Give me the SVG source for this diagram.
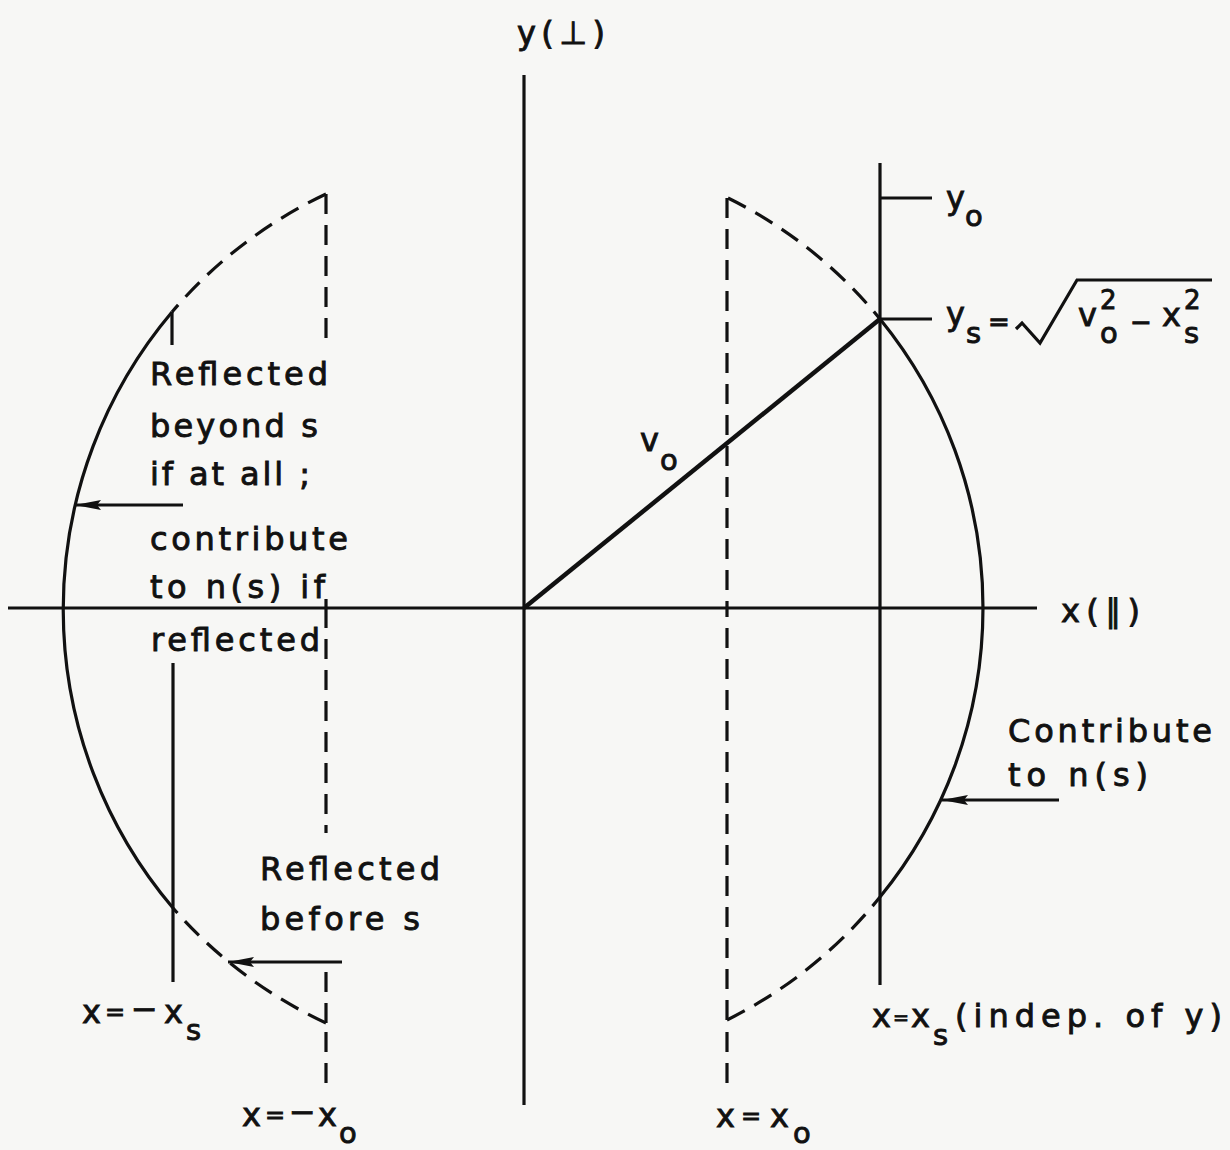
<svg xmlns="http://www.w3.org/2000/svg" width="1230" height="1150" viewBox="0 0 1230 1150">
<style>
.ln{stroke:#111;stroke-width:3.2;fill:none;stroke-linecap:butt}
.th{stroke-width:4.5}
.ds{stroke-dasharray:20 11}
text{font-family:"DejaVu Sans","Liberation Sans",sans-serif;font-size:32px;fill:#111;stroke:#111;stroke-width:0.9px}
.sb{font-size:29px}
.sm{font-size:26px}
.eq{font-size:24px}
.eqs{font-size:19px}
</style>
<defs>
<marker id="ah" viewBox="0 0 26 12" refX="26" refY="6" markerWidth="26" markerHeight="12" markerUnits="userSpaceOnUse" orient="auto">
<path d="M0,1 L26,6 L0,11 L4,6 Z" fill="#111"/>
</marker>
</defs>
<rect width="1230" height="1150" fill="#f7f7f5"/>
<g id="connectors">
<path class="ln" d="M524,75 V1105"/>
<path class="ln" d="M8,608 H1037"/>
<path class="ln th" d="M524,608 L880,319"/>
<path class="ln" d="M880,163 V985"/>
<path class="ln" d="M880,198 H932"/>
<path class="ln" d="M880,319 H932"/>
<path class="ln" d="M880,319 A457,457 0 0 1 880,897"/>
<path class="ln ds" d="M728,198 A457,457 0 0 1 880,319"/>
<path class="ln ds" d="M727,1020 A457,457 0 0 0 880,897"/>
<path class="ln ds" d="M727,198 V612"/>
<path class="ln ds" d="M727,1020 V612"/>
<path class="ln ds" d="M727,1032 V1086"/>
<path class="ln" d="M172,312 A461,461 0 0 0 173,908"/>
<path class="ln" d="M172,312 V345"/>
<path class="ln" d="M173,663 V982"/>
<path class="ln ds" d="M326,194 A460,460 0 0 0 172,312"/>
<path class="ln ds" d="M326,1023 A460,460 0 0 1 173,908"/>
<path class="ln ds" d="M326,194 V347"/>
<path class="ln" d="M326,599 V608"/>
<path class="ln ds" d="M326,608 V833"/>
<path class="ln ds" d="M326,1023 V972"/>
<path class="ln ds" d="M326,1032 V1086"/>
<path class="ln" d="M183,505 L75,505" marker-end="url(#ah)"/>
<path class="ln" d="M342,962 L228,962" marker-end="url(#ah)"/>
<path class="ln" d="M1059,800 L942,800" marker-end="url(#ah)"/>
<path class="ln" d="M1016,329 L1022,323 L1040,343 L1077,280 H1212" stroke-width="3.5"/>
</g>
<g id="axis-labels">
<text x="517" y="44" textLength="88" lengthAdjust="spacing">y(⊥)</text>
<text x="1061" y="622" textLength="79" lengthAdjust="spacing">x(∥)</text>
</g>
<g id="label-v0">
<text x="640" y="451">v</text>
<text class="sb" x="660" y="470">o</text>
</g>
<g id="label-y0">
<text x="946" y="209">y</text>
<text class="sb" x="965" y="226">o</text>
</g>
<g id="label-ys">
<text x="946" y="325">y</text>
<text class="sb" x="966" y="343">s</text>
<text class="sm" x="988" y="331">=</text>
<text x="1078" y="326">v</text>
<text class="sm" x="1100" y="309">2</text>
<text class="sb" x="1100" y="343">o</text>
<text class="sm" x="1130" y="331">−</text>
<text x="1162" y="326">x</text>
<text class="sm" x="1184" y="309">2</text>
<text class="sb" x="1184" y="343">s</text>
</g>
<g id="label-reflected-beyond">
<text x="150" y="385" textLength="178" lengthAdjust="spacing">Reflected</text>
<text x="150" y="437" textLength="168" lengthAdjust="spacing">beyond  s</text>
<text x="150" y="485" textLength="160" lengthAdjust="spacing">if at all ;</text>
<text x="150" y="550" textLength="198" lengthAdjust="spacing">contribute</text>
<text x="150" y="598" textLength="175" lengthAdjust="spacing">to n(s) if</text>
<text x="151" y="651" textLength="169" lengthAdjust="spacing">reflected</text>
</g>
<g id="label-reflected-before">
<text x="260" y="880" textLength="180" lengthAdjust="spacing">Reflected</text>
<text x="260" y="930" textLength="160" lengthAdjust="spacing">before  s</text>
</g>
<g id="label-contribute">
<text x="1008" y="742" textLength="204" lengthAdjust="spacing">Contribute</text>
<text x="1008" y="786" textLength="140" lengthAdjust="spacing">to  n(s)</text>
</g>
<g id="label-minus-xs">
<text x="82" y="1023">x</text>
<text class="eq" x="105" y="1020">=</text>
<text x="131" y="1020">−</text>
<text x="164" y="1023">x</text>
<text class="sb" x="186" y="1040">s</text>
</g>
<g id="label-minus-x0">
<text x="242" y="1126">x</text>
<text class="eq" x="265" y="1123">=</text>
<text x="289" y="1123">−</text>
<text x="318" y="1126">x</text>
<text class="sb" x="339" y="1143">o</text>
</g>
<g id="label-x0">
<text x="716" y="1127">x</text>
<text class="eq" x="741" y="1124">=</text>
<text x="770" y="1127">x</text>
<text class="sb" x="793" y="1143">o</text>
</g>
<g id="label-xs">
<text x="872" y="1027">x</text>
<text class="eqs" x="893" y="1024">=</text>
<text x="911" y="1027">x</text>
<text class="sb" x="933" y="1045">s</text>
<text x="955" y="1027" textLength="267" lengthAdjust="spacing">(indep. of  y)</text>
</g>
</svg>
